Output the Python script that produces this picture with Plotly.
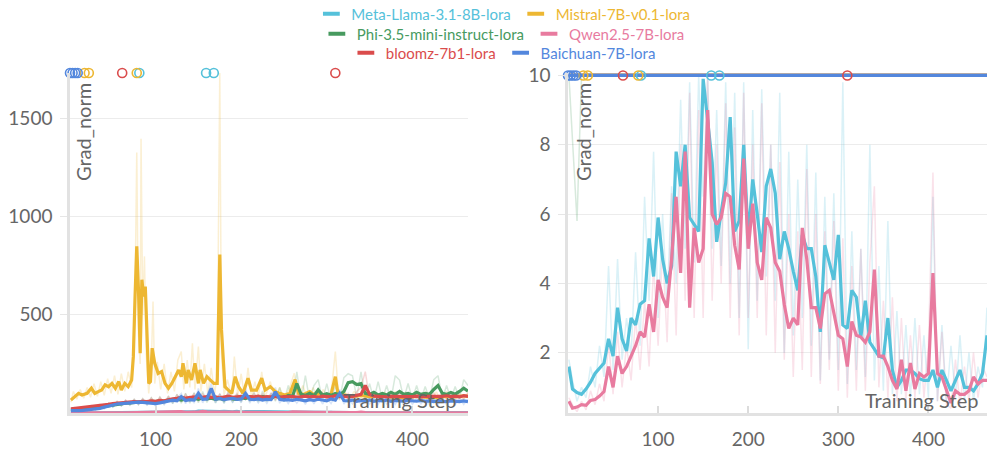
import numpy as np
import plotly.graph_objects as go

# ---------------- data ----------------
SERIES = ["Meta-Llama-3.1-8B-lora", "Mistral-7B-v0.1-lora", "Phi-3.5-mini-instruct-lora",
          "Qwen2.5-7B-lora", "bloomz-7b1-lora", "Baichuan-7B-lora"]
COLORS = ["#55C1DA", "#EDB732", "#479A5F", "#E87B9F", "#DA4C4C", "#5387DD"]

STEPS = [1] + list(range(5, 466, 5))

LLAMA_SMOOTH = [1.6, 0.95, 0.85, 0.8, 0.95, 1.15, 1.4, 1.55, 1.7, 2.4,
                1.9, 3.3, 2.4, 2.05, 3.0, 2.8, 3.4, 3.5, 5.3, 4.2,
                5.9, 4.7, 4.0, 4.5, 7.8, 6.8, 8.0, 5.9, 5.7, 5.5,
                9.9, 8.7, 7.5, 5.2, 6.0, 6.9, 8.8, 5.5, 5.8, 8.0,
                5.3, 7.0, 6.0, 4.9, 6.8, 7.3, 6.6, 4.7, 5.5, 5.0,
                4.35, 3.8, 5.4, 5.0, 5.0, 4.2, 2.6, 5.1, 4.6, 4.1,
                5.4, 2.8, 2.7, 3.8, 3.6, 2.45, 3.5, 2.3, 2.1, 1.9,
                1.85, 3.0, 1.5, 1.0, 1.2, 1.5, 1.5, 1.4, 1.25, 1.2,
                1.2, 1.5, 1.0, 1.5, 1.2, 0.9, 1.2, 1.5, 1.0, 1.0,
                0.9, 1.1, 1.4, 2.5]
LLAMA_RAW = [1.8, 1.2, 0.6, 1.0, 0.7, 1.6, 1.0, 2.2, 1.3, 4.5,
             1.5, 4.7, 1.8, 3.0, 1.9, 4.9, 2.2, 6.5, 3.5, 7.8,
             3.0, 6.0, 3.4, 6.8, 4.0, 9.3, 5.0, 9.8, 4.6, 10.5,
             6.5, 10.5, 5.0, 9.0, 4.5, 9.8, 4.0, 9.5, 3.0, 9.8,
             2.1, 9.0, 3.5, 9.6, 4.2, 8.0, 3.5, 9.5, 2.0, 7.8,
             2.5, 7.0, 3.0, 8.0, 2.2, 7.2, 1.2, 6.5, 1.8, 6.6,
             1.5, 9.8, 1.1, 5.5, 1.5, 5.0, 1.3, 8.0, 1.2, 4.5,
             0.9, 5.8, 0.8, 3.2, 0.8, 2.8, 0.7, 3.0, 0.8, 2.5,
             0.7, 6.5, 0.6, 2.8, 0.6, 2.2, 0.7, 2.5, 0.6, 2.0,
             0.6, 1.6, 1.0, 3.3]

QWEN_SMOOTH = [0.6, 0.4, 0.43, 0.5, 0.48, 0.62, 0.65, 0.75, 0.88, 1.6,
               1.0, 1.9, 1.4, 1.6, 1.9, 2.2, 2.6, 2.45, 3.4, 2.6,
               4.1, 3.6, 3.3, 4.7, 6.5, 4.3, 7.8, 3.3, 5.6, 4.6,
               5.0, 9.0, 6.0, 5.7, 5.9, 6.6, 6.5, 5.1, 4.4, 7.6,
               5.0, 6.3, 4.6, 4.1, 5.9, 5.6, 4.6, 4.35, 3.4, 2.7,
               3.0, 2.8, 5.6, 4.7, 3.3, 3.3, 2.7, 3.7, 3.8, 3.2,
               2.5, 2.4, 1.6, 2.9, 2.5, 2.45, 2.3, 2.6, 4.4, 1.9,
               1.9, 1.6, 1.2, 0.95, 1.8, 0.9, 1.7, 0.95, 1.4, 1.3,
               1.4, 4.3, 1.4, 1.3, 0.9, 0.55, 0.9, 0.8, 0.8, 0.9,
               1.3, 1.1, 1.2, 1.2]
QWEN_RAW = [0.7, 0.5, 0.3, 0.6, 0.35, 0.9, 0.5, 1.1, 0.6, 2.3,
            0.8, 2.6, 1.0, 2.2, 1.2, 3.0, 1.5, 3.5, 1.6, 4.5,
            2.2, 5.0, 2.3, 6.6, 2.5, 8.0, 3.5, 9.5, 3.0, 9.0,
            3.0, 10.5, 3.5, 8.0, 4.0, 9.2, 3.0, 8.5, 2.5, 9.5,
            3.0, 8.0, 3.0, 9.2, 2.5, 8.0, 2.0, 7.5, 1.8, 6.0,
            1.3, 5.5, 1.5, 7.3, 1.3, 6.0, 1.1, 5.5, 1.5, 5.8,
            0.9, 5.3, 0.7, 4.5, 0.9, 5.0, 0.9, 4.6, 6.8, 1.0,
            3.5, 0.7, 3.6, 0.6, 3.0, 0.6, 2.5, 0.7, 2.8, 0.7,
            2.2, 7.2, 0.6, 2.6, 0.5, 0.4, 1.8, 0.5, 1.6, 0.6,
            2.0, 0.7, 1.6, 1.3]

PHI_SMOOTH = [18, 15, 14, 16, 18, 22, 26, 30, 34, 38,
              42, 45, 48, 50, 52, 55, 54, 58, 56, 60,
              58, 62, 60, 66, 64, 70, 66, 72, 68, 75,
              70, 78, 72, 76, 70, 74, 68, 80, 72, 70,
              78, 74, 82, 76, 72, 84, 78, 74, 88, 80,
              76, 90, 85, 150, 95, 90, 100, 88, 118, 92,
              98, 90, 100, 92, 110, 155, 160, 145, 150, 100,
              95, 105, 92, 100, 92, 105, 95, 110, 95, 100,
              92, 105, 95, 100, 95, 120, 140, 100, 95, 105,
              96, 110, 126, 112]
PHI_RAW = [25, 8, 5.8, 22, 12, 30, 18, 40, 24, 50,
           30, 58, 36, 64, 40, 70, 42, 74, 44, 78,
           45, 82, 46, 86, 48, 95, 50, 100, 50, 105,
           52, 110, 54, 100, 52, 98, 50, 110, 54, 96,
           56, 100, 58, 104, 56, 112, 58, 100, 60, 130,
           58, 140, 60, 210, 62, 190, 64, 140, 170, 62,
           150, 64, 140, 66, 180, 200, 190, 80, 210, 70,
           150, 68, 160, 70, 140, 68, 190, 168, 72, 150,
           70, 140, 68, 135, 70, 170, 190, 72, 140, 70,
           135, 72, 170, 140]

BLOOMZ_SMOOTH = [22, 24, 26, 28, 30, 32, 34, 36, 40, 44,
                 48, 50, 52, 55, 56, 58, 57, 60, 58, 62,
                 60, 64, 62, 68, 72, 75, 80, 76, 78, 82,
                 78, 80, 84, 80, 82, 78, 84, 86, 80, 82,
                 85, 80, 84, 82, 86, 80, 84, 82, 86, 80,
                 84, 82, 85, 80, 84, 86, 82, 85, 80, 86,
                 84, 82, 88, 84, 86, 82, 85, 88, 95, 140,
                 95, 86, 84, 86, 82, 85, 84, 86, 82, 85,
                 84, 86, 82, 85, 84, 86, 82, 85, 88, 84,
                 86, 82, 88, 85]
BLOOMZ_RAW = [18, 28, 22, 32, 26, 38, 28, 44, 32, 52,
              38, 60, 40, 66, 44, 70, 46, 72, 46, 76,
              48, 80, 50, 84, 56, 92, 60, 96, 62, 100,
              62, 98, 66, 100, 64, 96, 66, 104, 64, 100,
              66, 102, 66, 100, 68, 98, 66, 102, 68, 98,
              66, 104, 66, 98, 68, 104, 66, 102, 64, 106,
              66, 100, 70, 104, 68, 100, 66, 110, 130, 211,
              70, 106, 66, 104, 64, 102, 66, 104, 64, 102,
              66, 104, 64, 102, 66, 104, 64, 104, 68, 102,
              66, 100, 70, 104]

BAICHUAN_SMOOTH = [12, 11, 12, 14, 16, 20, 22, 24, 30, 36,
                   42, 46, 48, 50, 54, 52, 56, 54, 52, 50,
                   48, 52, 56, 60, 66, 62, 83, 64, 68, 66,
                   100, 70, 72, 126, 70, 74, 68, 72, 75, 70,
                   72, 100, 70, 68, 72, 66, 70, 68, 108, 70,
                   66, 68, 64, 70, 66, 62, 68, 64, 70, 66,
                   62, 72, 66, 100, 64, 62, 66, 60, 64, 62,
                   66, 60, 64, 62, 66, 60, 64, 62, 60, 64,
                   62, 60, 64, 60, 62, 58, 62, 60, 58, 62,
                   60, 58, 62, 58]
BAICHUAN_RAW = [10, 14, 10, 18, 12, 26, 16, 32, 22, 46,
                30, 56, 36, 62, 42, 64, 44, 66, 40, 62,
                36, 66, 42, 74, 50, 78, 100, 48, 84, 50,
                125, 52, 90, 150, 52, 92, 50, 90, 54, 88,
                52, 125, 50, 86, 52, 84, 50, 88, 130, 50,
                84, 48, 82, 50, 84, 44, 86, 46, 88, 46,
                80, 48, 90, 120, 46, 78, 46, 80, 44, 80,
                46, 78, 44, 80, 46, 76, 44, 80, 42, 82,
                44, 76, 46, 78, 42, 76, 44, 78, 42, 80,
                42, 76, 44, 72]

MISTRAL_STEPS = [1, 5, 10, 14, 20, 25, 29, 33, 37, 41, 45, 49, 53, 57, 60, 64, 68, 72, 74, 76,
                 78, 80, 82, 84, 86, 88, 90, 92, 94, 96, 99, 103, 107, 111, 115, 119, 123, 127, 130, 132,
                 136, 138, 142, 146, 150, 152, 156, 160, 164, 168, 172, 173, 175, 177, 181, 185, 189, 193, 197, 202,
                 208, 212, 218, 224, 228, 234, 240, 245, 251, 257, 263, 267, 273, 280, 286, 292, 300, 305, 310, 313,
                 320, 330, 340, 350, 360, 370, 380, 390, 400, 410, 420, 430, 440, 450, 460, 465]
MISTRAL_SMOOTH = [66, 83, 100, 92, 100, 126, 100, 109, 117, 143, 134, 151, 126, 160, 117, 151, 134, 168, 287, 593,
                  848, 627, 304, 678, 593, 644, 338, 151, 160, 330, 253, 202, 211, 151, 126, 151, 185, 219, 185, 253,
                  151, 219, 168, 253, 151, 219, 151, 185, 168, 151, 151, 423, 806, 423, 134, 117, 100, 185, 134, 100,
                  177, 117, 117, 177, 117, 134, 109, 100, 92, 100, 170, 100, 95, 109, 90, 100, 83, 95, 185, 100,
                  92, 83, 90, 83, 88, 83, 80, 78, 85, 83, 78, 80, 85, 82, 88, 85]
MISTRAL_RAW_STEPS = [1, 4, 8, 12, 16, 20, 24, 28, 32, 36, 40, 44, 48, 52, 56, 60, 64, 68, 72, 76,
                     78, 80, 82, 83, 85, 87, 89, 92, 95, 97, 99, 102, 106, 110, 114, 118, 122, 126, 130, 133,
                     137, 140, 143, 146, 150, 153, 157, 161, 165, 169, 172, 175, 177, 180, 184, 189, 192, 196, 200, 204,
                     208, 212, 216, 220, 224, 228, 234, 240, 245, 250, 256, 262, 266, 272, 278, 284, 290, 296, 302, 306,
                     310, 314, 320, 326, 332, 338, 344, 350, 356, 362, 368, 374, 380, 386, 392, 398, 404, 410, 416, 422,
                     428, 434, 440, 446, 452, 458, 465]
MISTRAL_RAW = [55, 110, 70, 120, 75, 130, 80, 150, 85, 160, 90, 175, 100, 190, 95, 200, 110, 210, 130, 600,
               1325, 400, 250, 1396, 500, 797, 300, 100, 250, 568, 150, 260, 120, 250, 100, 210, 110, 270, 313, 120,
               270, 130, 355, 120, 338, 110, 250, 100, 230, 95, 200, 1730, 300, 90, 170, 80, 287, 90, 200, 75,
               230, 80, 160, 85, 210, 80, 160, 70, 130, 65, 120, 202, 70, 140, 65, 130, 70, 120, 60, 140,
               313, 70, 120, 65, 110, 60, 115, 65, 110, 60, 105, 62, 110, 60, 105, 62, 110, 60, 105, 62,
               108, 60, 110, 62, 105, 65, 100]

# circles drawn along the top edge (per series)
FLAG_STEPS = {
    "Meta-Llama-3.1-8B-lora": [81, 159, 168],
    "Mistral-7B-v0.1-lora": [17, 22, 78],
    "Phi-3.5-mini-instruct-lora": [],
    "Qwen2.5-7B-lora": [],
    "bloomz-7b1-lora": [61, 310],
    "Baichuan-7B-lora": [0, 3, 6, 9],
}

LEFT_YTICKS = [500, 1000, 1500]
RIGHT_YTICKS = [2, 4, 6, 8, 10]
XTICKS = [100, 200, 300, 400]
LEFT_YMAX = 1730
RIGHT_YMAX = 10
Y_MIN = 0.26
X_MAX = 465

DATA = {
    SERIES[0]: (STEPS, LLAMA_RAW, STEPS, LLAMA_SMOOTH),
    SERIES[1]: (MISTRAL_RAW_STEPS, MISTRAL_RAW, MISTRAL_STEPS, MISTRAL_SMOOTH),
    SERIES[2]: (STEPS, PHI_RAW, STEPS, PHI_SMOOTH),
    SERIES[3]: (STEPS, QWEN_RAW, STEPS, QWEN_SMOOTH),
    SERIES[4]: (STEPS, BLOOMZ_RAW, STEPS, BLOOMZ_SMOOTH),
    SERIES[5]: (STEPS, BAICHUAN_RAW, STEPS, BAICHUAN_SMOOTH),
}


def rgba(hex_color, a):
    h = hex_color.lstrip("#")
    r, g, b = int(h[0:2], 16), int(h[2:4], 16), int(h[4:6], 16)
    return f"rgba({r},{g},{b},{a})"


fig = go.Figure()

# (x axis, y axis, value at top edge, clip level, small headroom so the top line is not cut)
panels = [("x", "y", LEFT_YMAX, None, 0.0), ("x2", "y2", RIGHT_YMAX, RIGHT_YMAX, 0.07)]

for xa, ya, ytop, clip, _ in panels:
    for name, col in zip(SERIES, COLORS):
        rx, ry, sx, sy = DATA[name]
        yv = np.array(ry, dtype=float)
        if clip is not None:
            yv = np.minimum(yv, clip)
        fig.add_trace(go.Scatter(x=rx, y=yv, mode="lines", xaxis=xa, yaxis=ya,
                                 line=dict(color=rgba(col, 0.22), width=1.5),
                                 showlegend=False, hoverinfo="skip"))
    for name, col in zip(SERIES, COLORS):
        rx, ry, sx, sy = DATA[name]
        yv = np.array(sy, dtype=float)
        if clip is not None:
            yv = np.minimum(yv, clip)
        fig.add_trace(go.Scatter(x=sx, y=yv, mode="lines", xaxis=xa, yaxis=ya,
                                 line=dict(color=col, width=3.2),
                                 showlegend=False, name=name))
    for name, col in zip(SERIES, COLORS):
        fs = FLAG_STEPS[name]
        if not fs:
            continue
        fig.add_trace(go.Scatter(x=fs, y=[ytop] * len(fs), mode="markers", xaxis=xa, yaxis=ya,
                                 marker=dict(symbol="circle-open", size=9, color=col,
                                             line=dict(width=1.6, color=col)),
                                 cliponaxis=False, showlegend=False, hoverinfo="skip"))

# legend entries (three centred rows of two)
legend_ids = ["legend", "legend", "legend2", "legend2", "legend3", "legend3"]
for name, col, lg in zip(SERIES, COLORS, legend_ids):
    fig.add_trace(go.Scatter(x=[None], y=[None], mode="markers", xaxis="x", yaxis="y",
                             marker=dict(symbol="line-ew", size=12, color=col,
                                         line=dict(width=4, color=col)),
                             name=f"<span style='color:{col}'>{name}</span>",
                             legend=lg, showlegend=True))

W, H = 987, 452
ydom = [(H - 413) / H, (H - 73) / H]
axis_font = dict(family="Lato", size=19, color="#666")

common_x = dict(range=[0, X_MAX], tickvals=XTICKS, ticks="inside", ticklen=7, tickwidth=1.5,
                tickcolor="#dcdcdc", showline=True, linecolor="#e2e2e2", linewidth=2.5,
                showgrid=False, zeroline=False, tickfont=axis_font, ticklabelstandoff=7)
common_y = dict(ticks="outside", ticklen=7, tickwidth=1, tickcolor="#e6e6e6", showline=True,
                linecolor="#e2e2e2", linewidth=2.5, showgrid=True, gridcolor="#ececec",
                gridwidth=1, zeroline=False, tickfont=axis_font, ticklabelstandoff=4)

leg_common = dict(orientation="h", x=0.51, xanchor="center", yanchor="middle",
                  bgcolor="rgba(0,0,0,0)", font=dict(family="Lato", size=15),
                  itemwidth=30, tracegroupgap=0)

fig.update_layout(
    width=W, height=H, margin=dict(l=0, r=0, t=0, b=0, autoexpand=False),
    paper_bgcolor="white", plot_bgcolor="white",
    font=dict(family="Lato", size=19, color="#666"),
    xaxis=dict(domain=[70 / W, 468 / W], anchor="y", **common_x),
    yaxis=dict(domain=ydom, anchor="x", range=[Y_MIN, LEFT_YMAX], tickvals=LEFT_YTICKS, **common_y),
    xaxis2=dict(domain=[568 / W, 1.0], anchor="y2", **common_x),
    yaxis2=dict(domain=ydom, anchor="x2", range=[Y_MIN, RIGHT_YMAX + panels[1][4]],
                tickvals=RIGHT_YTICKS, **common_y),
    legend=dict(y=1 - 14 / H, **leg_common),
    legend2=dict(y=1 - 34 / H, **leg_common),
    legend3=dict(y=1 - 53 / H, **leg_common),
    showlegend=True,
)

title_font = dict(family="Lato", size=20, color="#666")
for xc in (83, 583):
    fig.add_annotation(text="Grad_norm", xref="paper", yref="paper", x=xc / W, y=1 - 132 / H,
                       xanchor="center", yanchor="middle", textangle=-90, showarrow=False,
                       font=title_font)
for xr in (458, 980):
    fig.add_annotation(text="Training Step", xref="paper", yref="paper", x=xr / W, y=1 - 400 / H,
                       xanchor="right", yanchor="middle", showarrow=False, font=title_font)

fig.write_html("out.html", config={"displayModeBar": False},
               post_script="document.body.style.margin='0';document.body.style.overflow='hidden';")
